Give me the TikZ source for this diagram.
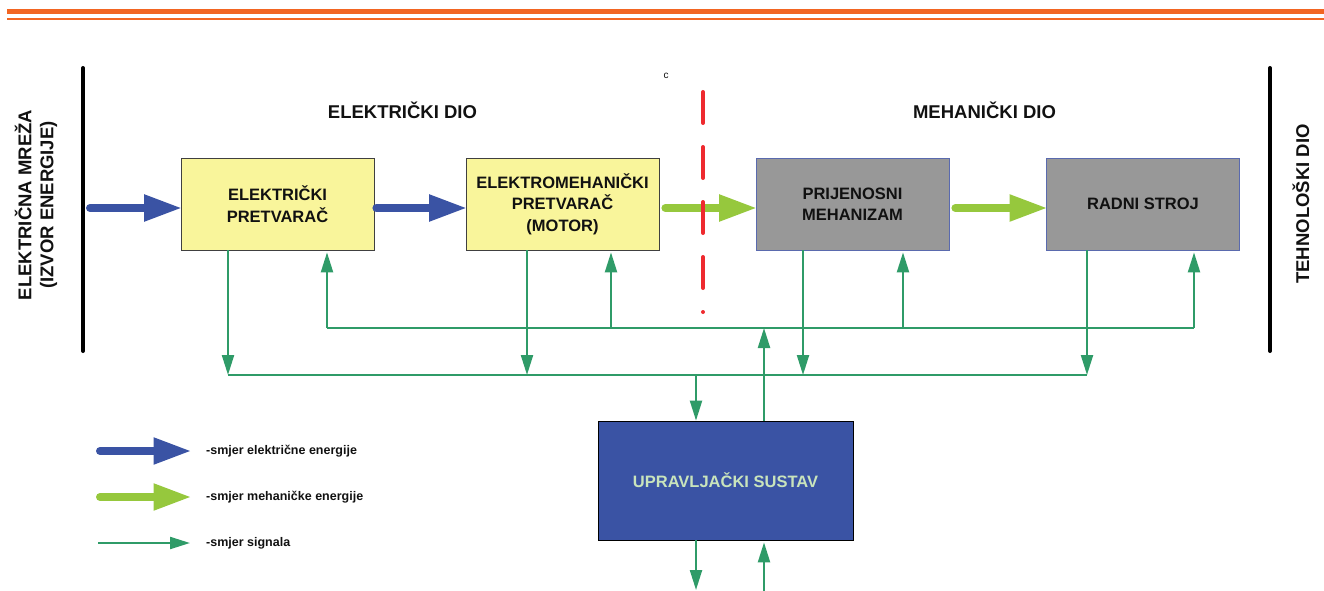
\documentclass[tikz,border=0pt]{standalone}
\usepackage{fontspec}
\setmainfont{Liberation Sans}
\usetikzlibrary{arrows.meta}

\definecolor{orangebar}{HTML}{F26522}
\definecolor{yellowfill}{HTML}{F9F59B}
\definecolor{boxline}{HTML}{404040}
\definecolor{grayfill}{HTML}{989898}
\definecolor{grayline}{HTML}{5A6AAE}
\definecolor{ctrlfill}{HTML}{3A53A4}
\definecolor{ctrltext}{HTML}{C9E4BC}
\definecolor{elblue}{HTML}{3A53A4}
\definecolor{mechgreen}{HTML}{96C83D}
\definecolor{siggreen}{HTML}{2F9B68}
\definecolor{cutred}{HTML}{EE2A2F}
\definecolor{inktext}{HTML}{111111}

\newcommand\bxfont{\fontsize{16.5}{21.5}\selectfont\bfseries}
\newcommand\hdfont{\fontsize{18.5}{22}\selectfont\bfseries}
\newcommand\lgfont{\fontsize{12.5}{15}\selectfont\bfseries}

\begin{document}
\begin{tikzpicture}[x=1pt,y=-1pt,
  box/.style={draw=boxline, line width=0.8pt, minimum width=193pt,
    minimum height=92pt, align=center, font=\bxfont, text=inktext, inner sep=0pt},
  yellowbox/.style={box, fill=yellowfill},
  graybox/.style={box, fill=grayfill, draw=grayline},
  ctrlbox/.style={draw=black, line width=0.8pt, fill=ctrlfill, minimum width=255pt,
    minimum height=119pt, font=\bxfont, text=ctrltext, inner sep=0pt},
  heading/.style={font=\hdfont, text=inktext, align=center, inner sep=0pt},
  legendtext/.style={font=\lgfont, text=inktext, anchor=west, inner sep=0pt},
  bigarrow/.style={line width=8pt, line cap=round, shorten >=-1.5pt,
    -{Triangle[length=38pt,width=25pt]}},
  elarrow/.style={bigarrow, draw=elblue},
  mecharrow/.style={bigarrow, draw=mechgreen},
  sig/.style={draw=siggreen, line width=2.2pt},
  sigarrow/.style={sig, -{Triangle[length=20pt,width=12pt]}},
  border/.style={draw=black, line width=4pt, line cap=round},
  cutline/.style={draw=cutred, line width=4pt, line cap=round, dash pattern=on 31pt off 24pt}
]
\useasboundingbox (0,0) rectangle (1324,591);

% header rule
\draw[orangebar, line width=5pt] (7,11.8) -- (1324,11.8);
\draw[orangebar, line width=1.8pt] (7,19) -- (1324,19);

% system borders and side labels
\draw[border] (83,68) -- (83,351);
\draw[border] (1270,68) -- (1270,351);
\node[heading, rotate=90] (grid) at (36,205) {ELEKTRIČNA MREŽA\\(IZVOR ENERGIJE)};
\node[heading, rotate=90] (tech) at (1301,204) {TEHNOLOŠKI DIO};

% section headings
\node[heading] (elpart) at (402.5,110.5) {ELEKTRIČKI DIO};
\node[heading] (mechpart) at (984.5,110.5) {MEHANIČKI DIO};
\node[font=\fontsize{10}{12}\selectfont, text=inktext, inner sep=0pt] (cmark) at (666,76) {c};

% main chain
\node[yellowbox] (conv) at (277.5,204) {ELEKTRIČKI\\PRETVARAČ};
\node[yellowbox] (motor) at (562.5,204) {ELEKTROMEHANIČKI\\PRETVARAČ\\(MOTOR)};
\node[graybox] (trans) at (852.5,204) {PRIJENOSNI\\MEHANIZAM};
\node[graybox] (machine) at (1143,204) {RADNI STROJ};
\node[ctrlbox] (ctrl) at (725.5,480.5) {UPRAVLJAČKI SUSTAV};

% energy flow
\coordinate (src) at (90,208);
\draw[elarrow] (src) -- (conv.west |- src);
\draw[elarrow] ([xshift=2pt]conv.east |- src) -- (motor.west |- src);
\draw[mecharrow] ([xshift=6pt]motor.east |- src) -- (trans.west |- src);
\draw[mecharrow] ([xshift=6pt]trans.east |- src) -- (machine.west |- src);

% boundary between electrical and mechanical parts, drawn over the energy flow
\draw[cutline] (703,92) -- (703,312);

% signal buses
\coordinate (lo1) at (228,375);
\coordinate (lo2) at (527,375);
\coordinate (lo3) at (803,375);
\coordinate (lo4) at (1087,375);
\coordinate (up1) at (327,328);
\coordinate (up2) at (611,328);
\coordinate (up3) at (903,328);
\coordinate (up4) at (1194,328);
\coordinate (cdn) at (696,375);
\coordinate (cup) at (764,328);
\coordinate (outdn) at (696,590);
\coordinate (inup) at (764,591);

\draw[sig] (lo1) -- (lo4);
\draw[sig] (up1) -- (up4);

% measured signals down to the lower bus
\draw[sigarrow] (conv.south -| lo1) -- (lo1);
\draw[sigarrow] (motor.south -| lo2) -- (lo2);
\draw[sigarrow] (trans.south -| lo3) -- (lo3);
\draw[sigarrow] (machine.south -| lo4) -- (lo4);

% control signals up to the blocks
\draw[sigarrow] (up1) -- ([yshift=-2pt]conv.south -| up1);
\draw[sigarrow] (up2) -- ([yshift=-2pt]motor.south -| up2);
\draw[sigarrow] (up3) -- ([yshift=-2pt]trans.south -| up3);
\draw[sigarrow] (up4) -- ([yshift=-2pt]machine.south -| up4);

% control system links
\draw[sigarrow] (cdn) -- (ctrl.north -| cdn);
\draw[sigarrow] (ctrl.north -| cup) -- (cup);
\draw[sigarrow] (ctrl.south -| outdn) -- (outdn);
\draw[sigarrow] (inup) -- ([yshift=-2pt]ctrl.south -| inup);

% legend
\coordinate (lgA) at (100,451);
\coordinate (lgAend) at (190,451);
\coordinate (lgB) at (100,497);
\coordinate (lgBend) at (190,497);
\coordinate (lgC) at (98,543);
\coordinate (lgCend) at (190,543);
\draw[elarrow] (lgA) -- (lgAend);
\draw[mecharrow] (lgB) -- (lgBend);
\draw[sigarrow] (lgC) -- (lgCend);
\node[legendtext] (lgtA) at (206,451) {-smjer električne energije};
\node[legendtext] (lgtB) at (206,497) {-smjer mehaničke energije};
\node[legendtext] (lgtC) at (206,543) {-smjer signala};
\end{tikzpicture}
\end{document}
